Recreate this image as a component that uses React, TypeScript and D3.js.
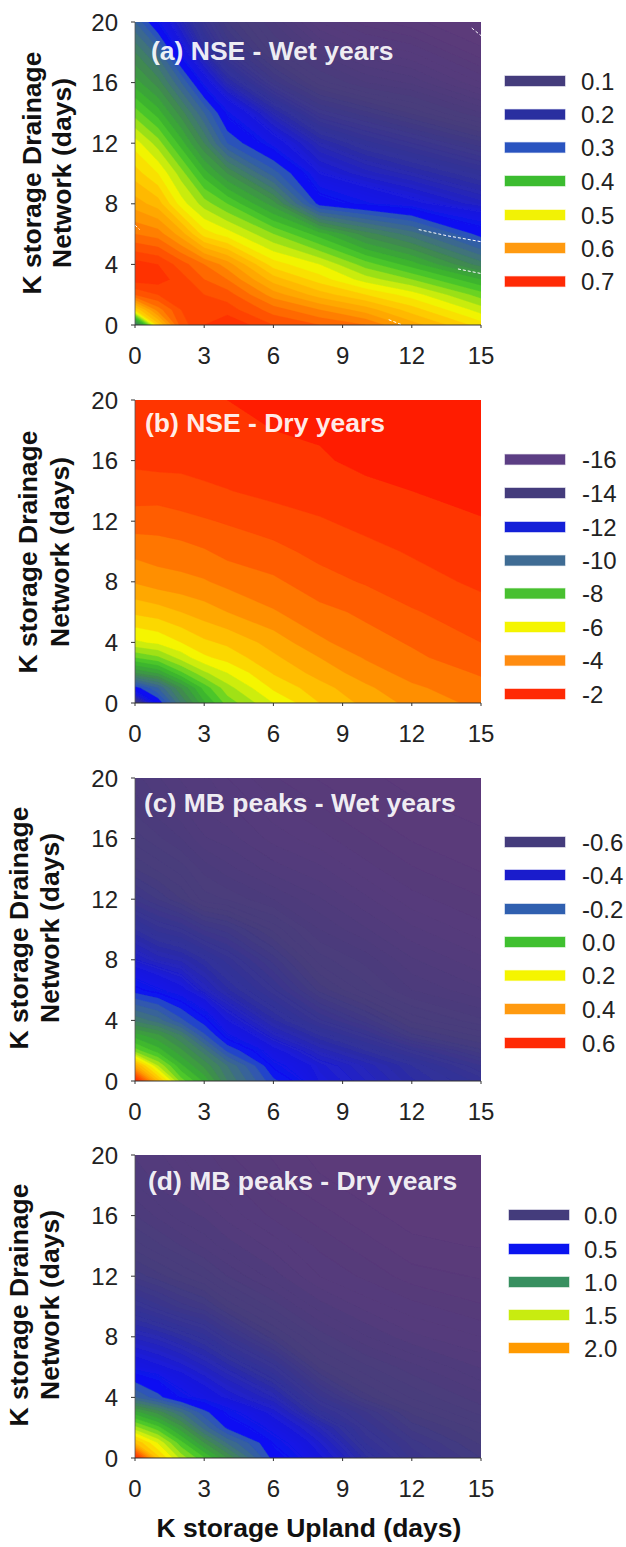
import React from "react";
import * as d3 from "d3";

const xGrid = [0, 1, 2, 3, 4, 6, 8, 10, 12, 15];
const yGrid = [0, 1, 2, 3, 4, 6, 8, 10, 12, 14, 16, 18, 20];
const xTicks = [0, 3, 6, 9, 12, 15];
const yTicks = [0, 4, 8, 12, 16, 20];

const nseWet = [
  [.3, .54, .66, .69, .71, .67, .65, .63, .58, .52],
  [.53, .62, .67, .68, .68, .64, .61, .58, .54, .48],
  [.65, .67, .68, .67, .66, .60, .56, .53, .50, .44],
  [.70, .70, .68, .65, .63, .56, .52, .48, .45, .39],
  [.70, .69, .66, .63, .60, .52, .49, .44, .40, .32],
  [.63, .62, .58, .52, .50, .45, .40, .34, .30, .22],
  [.58, .56, .50, .46, .43, .36, .22, .20, .185, .165],
  [.54, .51, .46, .40, .35, .26, .18, .165, .155, .14],
  [.50, .46, .40, .33, .25, .19, .155, .14, .13, .115],
  [.44, .40, .34, .27, .20, .155, .125, .115, .105, .09],
  [.38, .34, .27, .19, .155, .12, .10, .09, .085, .07],
  [.33, .28, .19, .15, .125, .10, .085, .075, .07, .055],
  [.27, .20, .16, .13, .11, .09, .07, .06, .055, .05],
];
const nseDry = [
  [-15.5, -13, -10.5, -8.6, -7.3, -6, -5, -4.35, -3.85, -3.35],
  [-12.8, -11.5, -9.5, -7.8, -6.7, -5.4, -4.7, -4.1, -3.6, -3.15],
  [-9.5, -8.9, -7.6, -6.6, -6, -4.95, -4.3, -3.75, -3.3, -2.95],
  [-7.5, -7.1, -6.3, -5.6, -5.3, -4.6, -4, -3.45, -3.1, -2.7],
  [-6.1, -5.9, -5.5, -5.1, -4.9, -4.3, -3.6, -3.2, -2.95, -2.5],
  [-4.9, -4.75, -4.5, -4.25, -4, -3.55, -3.15, -2.9, -2.55, -2.2],
  [-3.95, -3.75, -3.65, -3.55, -3.35, -3.1, -2.7, -2.45, -2.2, -1.9],
  [-3.35, -3.25, -3.2, -3.05, -2.85, -2.65, -2.35, -2.15, -1.95, -1.75],
  [-2.75, -2.78, -2.65, -2.55, -2.45, -2.25, -2.05, -1.85, -1.72, -1.53],
  [-2.25, -2.25, -2.2, -2.1, -2.02, -1.85, -1.75, -1.6, -1.5, -1.35],
  [-1.9, -1.85, -1.85, -1.8, -1.75, -1.65, -1.55, -1.4, -1.32, -1.2],
  [-1.75, -1.72, -1.7, -1.65, -1.6, -1.5, -1.45, -1.3, -1.22, -1.1],
  [-1.6, -1.6, -1.58, -1.55, -1.5, -1.4, -1.35, -1.25, -1.15, -1],
];
const mbWet = [
  [.7, .36, .12, .01, -.14, -.33, -.43, -.46, -.49, -.52],
  [.4, .18, .03, -.07, -.18, -.38, -.44, -.47, -.5, -.54],
  [.12, .04, -.05, -.16, -.31, -.42, -.47, -.5, -.53, -.57],
  [0, -.05, -.14, -.29, -.39, -.46, -.5, -.53, -.57, -.59],
  [-.15, -.2, -.29, -.36, -.43, -.49, -.53, -.56, -.59, -.61],
  [-.36, -.39, -.42, -.46, -.49, -.53, -.575, -.6, -.62, -.635],
  [-.45, -.47, -.48, -.5, -.52, -.56, -.6, -.615, -.635, -.65],
  [-.5, -.52, -.53, -.55, -.56, -.59, -.62, -.635, -.65, -.665],
  [-.55, -.565, -.58, -.6, -.605, -.62, -.635, -.65, -.665, -.675],
  [-.58, -.59, -.6, -.615, -.625, -.64, -.65, -.665, -.675, -.685],
  [-.6, -.61, -.62, -.635, -.64, -.655, -.665, -.675, -.685, -.69],
  [-.615, -.625, -.635, -.645, -.65, -.665, -.675, -.685, -.69, -.695],
  [-.625, -.635, -.645, -.65, -.66, -.675, -.685, -.69, -.695, -.7],
];
const mbDry = [
  [2.38, 1.7, 1.4, 1.2, .95, .43, .27, .14, .05, -.01],
  [1.75, 1.5, 1.22, .95, .7, .37, .23, .1, .03, -.03],
  [1.38, 1.22, .98, .68, .45, .3, .18, .07, 0, -.05],
  [1.07, .92, .72, .5, .36, .24, .11, .04, -.03, -.08],
  [.64, .5, .36, .3, .25, .18, .06, -.02, -.06, -.1],
  [.3, .27, .24, .2, .16, .08, -.03, -.07, -.1, -.14],
  [.19, .17, .14, .11, .06, -.02, -.08, -.12, -.15, -.17],
  [.09, .06, .03, .01, -.03, -.08, -.13, -.16, -.18, -.2],
  [0, -.02, -.04, -.06, -.09, -.13, -.17, -.19, -.21, -.22],
  [-.05, -.07, -.09, -.11, -.13, -.16, -.19, -.21, -.23, -.235],
  [-.09, -.11, -.13, -.14, -.16, -.19, -.21, -.23, -.24, -.245],
  [-.12, -.14, -.15, -.17, -.18, -.21, -.23, -.24, -.245, -.25],
  [-.14, -.15, -.17, -.18, -.2, -.22, -.24, -.245, -.25, -.25],
];

const legendA = ["0.1", "0.2", "0.3", "0.4", "0.5", "0.6", "0.7"];
const legendB = ["-16", "-14", "-12", "-10", "-8", "-6", "-4", "-2"];
const legendC = ["-0.6", "-0.4", "-0.2", "0.0", "0.2", "0.4", "0.6"];
const legendD = ["0.0", "0.5", "1.0", "1.5", "2.0"];
const colorsA = ["#443c7c", "#2a2fa0", "#2a54c0", "#3cbc30", "#f2f205", "#ff9a10", "#ff2a05"];
const colorsB = ["#5c3e84", "#443c7c", "#1420d8", "#3f6c94", "#48c030", "#f5f500", "#ff8c10", "#ff2a05"];
const colorsC = ["#443c7c", "#1a1ccc", "#3060b0", "#40c030", "#f5f500", "#ff9a10", "#ff2a05"];
const colorsD = ["#443c7c", "#0a14f0", "#389060", "#c8ec10", "#ff9a00"];

const whiteSpecks = [
  [[12.3, 6.3], [13.5, 5.9], [15, 5.5]],
  [[14, 3.7], [15, 3.4]],
  [[11, .35], [11.6, 0]],
  [[0, 6.6], [.2, 6.3]],
  [[14.6, 19.6], [15, 19.1]],
];

const stops: [number, string][] = [
  [0, "#5c3a7a"], [.08, "#463c7c"], [.14, "#30309c"], [.19, "#1a1adc"], [.245, "#0a10f5"], [.26, "#2a50c0"],
  [.35, "#3f7080"], [.42, "#3f8a50"], [.5, "#38b030"], [.55, "#50cc28"], [.62, "#c0ea10"],
  [.66, "#f5f500"], [.72, "#ffc800"], [.8, "#ff9a00"], [.9, "#ff5000"], [1, "#ff1c00"],
];
const colorOf = d3.scaleLinear<string>().domain(stops.map((s) => s[0])).range(stops.map((s) => s[1])).clamp(true);

const X0 = 135, X1 = 481;
const sx = d3.scaleLinear().domain([0, 15]).range([X0, X1]);

const FONT = "'Liberation Sans', Arial, sans-serif";
const BOLD = 26.5;

type P = {
  id: string; grid: number[][]; vals: number[]; ts: number[]; step: number; top: number; bottom: number;
  title: string; titleX: number; titleY: number; l1: number; l2: number; lc: number;
  legend: string[]; colors: string[]; ly: number[]; sw: number; tx: number; specks?: number[][][];
};

const panels: P[] = [
  { id: "a", grid: nseWet, vals: [.05, .72], ts: [0, 1], step: .02, top: 22, bottom: 325, title: "(a) NSE - Wet years", titleX: 151, titleY: 60, l1: 32, l2: 62, lc: 173, legend: legendA, colors: colorsA, ly: [81, 114.5, 147.5, 181, 215, 248, 281.5], sw: 505, tx: 581, specks: whiteSpecks },
  { id: "b", grid: nseDry, vals: [-17, -6, -4, -2, -1.5], ts: [0, .66, .815, .95, 1], step: .5, top: 400, bottom: 703, title: "(b) NSE - Dry years", titleX: 145, titleY: 432, l1: 28, l2: 60, lc: 552, legend: legendB, colors: colorsB, ly: [459.5, 493, 527, 560.5, 593.5, 627, 660.5, 694], sw: 505, tx: 582 },
  { id: "c", grid: mbWet, vals: [-.7, .7], ts: [0, 1], step: .04, top: 778, bottom: 1081, title: "(c) MB peaks - Wet years", titleX: 144, titleY: 811.5, l1: 19, l2: 50, lc: 928, legend: legendC, colors: colorsC, ly: [842, 875, 909, 942, 975.5, 1009, 1043], sw: 505, tx: 582 },
  { id: "d", grid: mbDry, vals: [-.25, 2.4], ts: [0, 1], step: .08, top: 1155, bottom: 1458, title: "(d) MB peaks - Dry years", titleX: 148, titleY: 1190, l1: 19, l2: 50, lc: 1305, legend: legendD, colors: colorsD, ly: [1215, 1249, 1282, 1315, 1348], sw: 509, tx: 584 },
];

function Panel({ p }: { p: P }) {
  const sy = d3.scaleLinear().domain([0, 20]).range([p.bottom, p.top]);
  const nx = xGrid.length, ny = yGrid.length;
  const ix = d3.scaleLinear()
    .domain([0, ...xGrid.map((_, i) => i + .5), nx])
    .range([sx(0), ...xGrid.map((v) => sx(v)), sx(15)]);
  const iy = d3.scaleLinear()
    .domain([0, ...yGrid.map((_, i) => i + .5), ny])
    .range([sy(0), ...yGrid.map((v) => sy(v)), sy(20)]);
  const lo = p.vals[0], hi = p.vals[p.vals.length - 1];
  const toT = d3.scaleLinear().domain(p.vals).range(p.ts);
  // bands are visible in the warm half; the dark half of the reference reads as a smooth gradient
  const coarse = d3.range(lo, hi + p.step * .5, p.step);
  const fine = d3.range(lo, hi, p.step / 5).filter((v) => toT(v) < .24);
  const thresholds = d3.ascending && [...coarse.filter((v) => toT(v) >= .24), ...fine].sort(d3.ascending);
  const polys = d3.contours().size([nx, ny]).smooth(true).thresholds(thresholds)(p.grid.flat());
  const line = d3.line<number[]>().x((d) => sx(d[0])).y((d) => sy(d[1]));
  const path = (mp: any) =>
    mp.coordinates.map((poly: number[][][]) =>
      poly.map((ring) => "M" + ring.map((c) => `${ix(c[0]).toFixed(2)},${iy(c[1]).toFixed(2)}`).join("L") + "Z").join("")
    ).join("");
  return (
    <g>
      <clipPath id={`clip-${p.id}`}>
        <rect x={X0} y={p.top} width={X1 - X0} height={p.bottom - p.top} />
      </clipPath>
      <g clipPath={`url(#clip-${p.id})`}>
        <g filter="url(#soft)">
          <rect x={X0 - 4} y={p.top - 4} width={X1 - X0 + 8} height={p.bottom - p.top + 8} fill={colorOf(toT(lo))} />
          {polys.map((c, i) => (
            <path key={i} d={path(c)} fill={colorOf(toT(c.value))} stroke={colorOf(toT(c.value))} strokeWidth={.3} />
          ))}
          {p.specks && p.specks.map((s, i) => (
            <path key={i} d={line(s) || ""} fill="none" stroke="#fff" strokeWidth={1} strokeDasharray="3 2" />
          ))}
        </g>
      </g>
      <line x1={X0} x2={X0} y1={p.top} y2={p.bottom} stroke="#555" strokeWidth={.8} />
      <line x1={X0} x2={X1} y1={p.bottom} y2={p.bottom} stroke="#333" strokeWidth={1.2} />
      {xTicks.map((t) => (
        <g key={t}>
          <line x1={sx(t)} x2={sx(t)} y1={p.bottom} y2={p.bottom + 3} stroke="#333" />
          <text x={sx(t)} y={p.bottom + 39} textAnchor="middle" fontSize={24} fontFamily={FONT} fill="#222">{t}</text>
        </g>
      ))}
      {yTicks.map((t) => (
        <g key={t}>
          <line x1={X0 - 4} x2={X0} y1={sy(t)} y2={sy(t)} stroke="#333" />
          <text x={118} y={sy(t) + 8.5} textAnchor="end" fontSize={24} fontFamily={FONT} fill="#222">{t}</text>
        </g>
      ))}
      <text x={p.titleX} y={p.titleY} fontSize={BOLD} fontWeight="bold" fontFamily={FONT} fill="#fff" fillOpacity={.92}>{p.title}</text>
      <g fontSize={BOLD} fontWeight="bold" fontFamily={FONT} fill="#111" textAnchor="middle">
        <text transform={`translate(${p.l1 + 9},${p.lc}) rotate(-90)`}>K storage Drainage</text>
        <text transform={`translate(${p.l2 + 9},${p.lc}) rotate(-90)`}>Network (days)</text>
      </g>
      {p.legend.map((l, i) => (
        <g key={l}>
          <rect x={p.sw} y={p.ly[i] - 5} width={60} height={10} fill={p.colors[i]} stroke={p.colors[i]} strokeOpacity={.4} strokeWidth={1.2} />
          <text x={p.tx} y={p.ly[i] + 8.5} fontSize={24} fontFamily={FONT} fill="#222">{l}</text>
        </g>
      ))}
    </g>
  );
}

export default function App() {
  return (
    <svg width={626} height={1547} viewBox="0 0 626 1547" style={{ position: "absolute", left: 0, top: 0, background: "#fff" }}>
      <defs>
        <filter id="soft" x="-2%" y="-2%" width="104%" height="104%">
          <feGaussianBlur stdDeviation={.6} />
        </filter>
      </defs>
      {panels.map((p) => <Panel key={p.id} p={p} />)}
      <text x={309} y={1537} textAnchor="middle" fontSize={BOLD} fontWeight="bold" fontFamily={FONT} fill="#111">K storage Upland (days)</text>
    </svg>
  );
}
